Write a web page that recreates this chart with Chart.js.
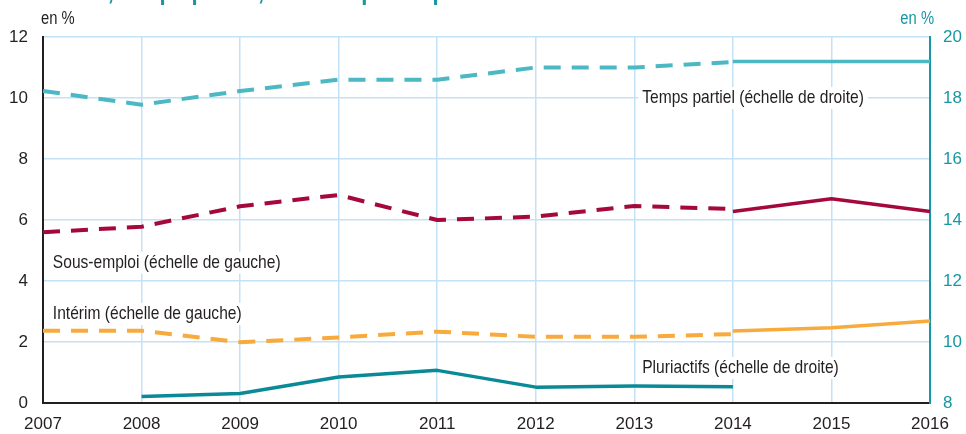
<!DOCTYPE html>
<html lang="fr">
<head>
<meta charset="utf-8">
<title>Intérim, temps partiel, sous-emploi et pluriactivité</title>
<script src="https://cdn.jsdelivr.net/npm/chart.js@4.4.1/dist/chart.umd.min.js"></script>
<style>
  html, body { margin: 0; padding: 0; background: #fff; }
  #wrap { position: relative; width: 966px; height: 434px; }
</style>
</head>
<body>
<div id="wrap"><canvas id="chart"></canvas></div>
<script>
// années
const years = ['2007', '2008', '2009', '2010', '2011', '2012', '2013', '2014', '2015', '2016'];

// Temps partiel (échelle de droite), ancienne série en pointillés puis nouvelle série
const tempsPartielAncien = [18.23, 17.78, 18.23, 18.6, 18.6, 19.0, 19.0, 19.18, null, null];
const tempsPartielNouveau = [null, null, null, null, null, null, null, 19.2, 19.2, 19.2];

// Sous-emploi (échelle de gauche)
const sousEmploiAncien = [5.6, 5.78, 6.45, 6.82, 6.0, 6.11, 6.46, 6.36, null, null];
const sousEmploiNouveau = [null, null, null, null, null, null, null, 6.28, 6.7, 6.28];

// Intérim (échelle de gauche)
const interimAncien = [2.37, 2.37, 1.99, 2.15, 2.34, 2.17, 2.17, 2.26, null, null];
const interimNouveau = [null, null, null, null, null, null, null, 2.36, 2.47, 2.69];

// Pluriactifs (échelle de droite)
const pluriactifs = [null, 8.21, 8.31, 8.85, 9.07, 8.52, 8.56, 8.53, null, null];

// graduations
const leftTicks = [0, 2, 4, 6, 8, 10, 12];
const rightTicks = [8, 10, 12, 14, 16, 18, 20];

const FONT = '"Liberation Sans", Arial, sans-serif';
const NARROW = 0.82; // Liberation Sans resserrée ~ Arial Narrow
const TEAL = '#1797a4';
const DARK = '#231f20';
const GRID = '#c4e2f6';
const DASH = [17, 11];

// étiquettes de séries, placées en coordonnées des échelles
const seriesLabels = [
  { text: 'Temps partiel (échelle de droite)', x: 6.08, y: 18.0, axis: 'y2' },
  { text: 'Sous-emploi (échelle de gauche)', x: 0.1, y: 4.6, axis: 'y' },
  { text: 'Intérim (échelle de gauche)', x: 0.1, y: 2.92, axis: 'y' },
  { text: 'Pluriactifs (échelle de droite)', x: 6.08, y: 9.15, axis: 'y2' }
];

// texte resserré horizontalement
function narrowText(ctx, text, x, y, align) {
  const w = ctx.measureText(text).width * NARROW;
  const left = align === 'right' ? x - w : x;
  ctx.save();
  ctx.translate(left, y);
  ctx.scale(NARROW, 1);
  ctx.textAlign = 'left';
  ctx.fillText(text, 0, 0);
  ctx.restore();
  return w;
}

const annotations = {
  id: 'annotations',
  beforeDatasetsDraw(chart) {
    const { ctx } = chart;
    const xs = chart.scales.x;
    ctx.save();
    ctx.font = '19px ' + FONT;
    ctx.textBaseline = 'middle';
    seriesLabels.forEach(l => {
      const px = xs.getPixelForValue(l.x);
      const py = chart.scales[l.axis].getPixelForValue(l.y);
      const w = ctx.measureText(l.text).width * NARROW;
      ctx.fillStyle = '#fff';
      ctx.fillRect(px - 4, py - 11, w + 8, 22);
      ctx.fillStyle = DARK;
      narrowText(ctx, l.text, px, py, 'left');
    });
    ctx.restore();
  },
  afterDraw(chart) {
    const { ctx, chartArea } = chart;
    ctx.save();
    // titre (coupé en haut de l'image)
    ctx.font = 'bold 27px ' + FONT;
    ctx.fillStyle = TEAL;
    ctx.textBaseline = 'alphabetic';
    narrowText(ctx, 'Intérim, temps partiel, sous-emploi et pluriactivité', 34, -1, 'left');
    // unités
    ctx.font = '18px ' + FONT;
    ctx.textBaseline = 'middle';
    ctx.fillStyle = DARK;
    narrowText(ctx, 'en %', chartArea.left - 2, 19, 'left');
    ctx.fillStyle = TEAL;
    narrowText(ctx, 'en %', chartArea.right + 4, 19, 'right');
    ctx.restore();
  }
};

function line(label, data, color, axis, dashed, width) {
  return {
    label: label,
    data: data,
    yAxisID: axis,
    borderColor: color,
    backgroundColor: color,
    borderWidth: width,
    borderDash: dashed ? DASH : [],
    borderCapStyle: 'butt',
    borderJoinStyle: 'round',
    pointRadius: 0,
    pointHoverRadius: 0,
    tension: 0,
    spanGaps: false,
    fill: false
  };
}

const tickFont = { family: FONT, size: 17 };

new Chart(document.getElementById('chart'), {
  type: 'line',
  data: {
    labels: years,
    datasets: [
      line('Temps partiel', tempsPartielAncien, '#4cb8c4', 'y2', true, 4),
      line('Temps partiel (nouvelle série)', tempsPartielNouveau, '#4cb8c4', 'y2', false, 3.5),
      line('Sous-emploi', sousEmploiAncien, '#a5093c', 'y', true, 4),
      line('Sous-emploi (nouvelle série)', sousEmploiNouveau, '#a5093c', 'y', false, 3.5),
      line('Intérim', interimAncien, '#f8aa3c', 'y', true, 4),
      line('Intérim (nouvelle série)', interimNouveau, '#f8aa3c', 'y', false, 3.5),
      line('Pluriactifs', pluriactifs, '#0a8a96', 'y2', false, 3.5)
    ]
  },
  options: {
    responsive: true,
    maintainAspectRatio: false,
    animation: false,
    events: [],
    layout: { padding: { top: 37, right: 0, bottom: 0, left: 0 } },
    plugins: {
      legend: { display: false },
      title: { display: false },
      tooltip: { enabled: false }
    },
    scales: {
      x: {
        offset: false,
        grid: { color: GRID, lineWidth: 1.5, drawTicks: false },
        border: { color: DARK, width: 2 },
        ticks: {
          color: DARK,
          font: tickFont,
          padding: 11,
          maxRotation: 0,
          autoSkip: false
        },
        afterFit(scale) { scale.height = 31; }
      },
      y: {
        position: 'left',
        min: 0,
        max: 12,
        afterBuildTicks(scale) { scale.ticks = leftTicks.map(v => ({ value: v })); },
        grid: { color: GRID, lineWidth: 1.5, drawTicks: false },
        border: { color: DARK, width: 2 },
        ticks: { color: DARK, font: tickFont, padding: 15 },
        afterFit(scale) { scale.width = 43; }
      },
      y2: {
        position: 'right',
        min: 8,
        max: 20,
        afterBuildTicks(scale) { scale.ticks = rightTicks.map(v => ({ value: v })); },
        grid: { drawOnChartArea: false, drawTicks: false },
        border: { color: TEAL, width: 2 },
        ticks: { color: TEAL, font: tickFont, padding: 13 },
        afterFit(scale) { scale.width = 36; }
      }
    }
  },
  plugins: [annotations]
});
</script>
</body>
</html>
